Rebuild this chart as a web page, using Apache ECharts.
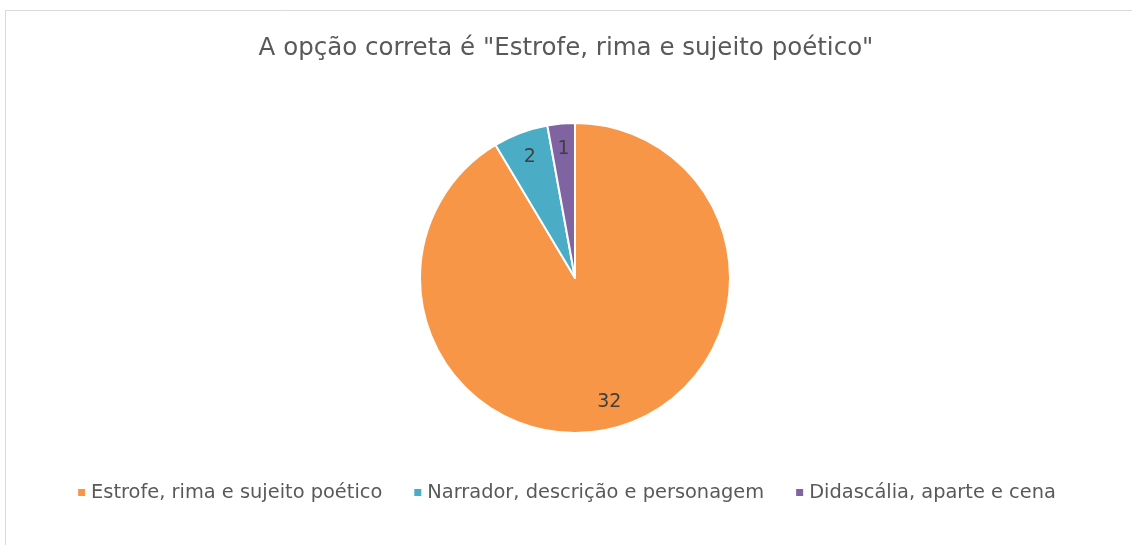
<!DOCTYPE html>
<html>
<head>
    <meta charset="utf-8" />
    <script type="text/javascript" src="https://cdn.jsdelivr.net/npm/echarts@6/dist/echarts.min.js"></script>
    <style>
      body { margin: 0; background: #ffffff; }
      #chart { width: 1132px; height: 545px; }
    </style>
</head>
<body>
<div id="chart"></div>
<script>
// dados do gráfico
var titulo = 'A opção correta é "Estrofe, rima e sujeito poético"';
var categorias = ['Estrofe, rima e sujeito poético', 'Narrador, descrição e personagem', 'Didascália, aparte e cena'];
var valores = [32, 2, 1];
var cores = ['#F79646', '#4BACC6', '#8064A2'];

var fonte = 'DejaVu Sans';
var dados = categorias.map(function (c, i) {
  return { name: c, value: valores[i], itemStyle: { color: cores[i] } };
});
// mesma série, invisível, só para posicionar os rótulos
var dadosRotulos = categorias.map(function (c, i) {
  return { name: c, value: valores[i], itemStyle: { color: 'rgba(0,0,0,0)' } };
});

var myChart = echarts.init(document.getElementById('chart'));
var option = {
  animation: false,
  title: {
    text: titulo,
    left: 'center',
    top: 31,
    textStyle: { fontFamily: fonte, fontSize: 24.5, fontWeight: 'normal', color: '#595959' }
  },
  legend: {
    data: categorias,
    bottom: 38,
    left: 'center',
    icon: 'rect',
    itemWidth: 9,
    itemHeight: 9,
    itemGap: 30,
    textStyle: { fontFamily: fonte, fontSize: 19.4, color: '#595959' }
  },
  graphic: [{
    type: 'rect',
    shape: { x: 5.5, y: 10.5, width: 1140, height: 560 },
    style: { fill: 'none', stroke: '#d9d9d9', lineWidth: 1 },
    silent: true
  }],
  series: [
    {
      // fatias
      type: 'pie',
      center: [575, 278],
      radius: [0, 155],
      startAngle: 90,
      clockwise: true,
      label: { show: false },
      labelLine: { show: false },
      itemStyle: { borderColor: '#ffffff', borderWidth: 2 },
      data: dados
    },
    {
      // rótulos dos valores
      type: 'pie',
      center: [575, 278],
      radius: [0, 252],
      startAngle: 90,
      clockwise: true,
      silent: true,
      legendHoverLink: false,
      label: {
        show: true,
        position: 'inside',
        formatter: '{c}',
        fontFamily: fonte,
        fontSize: 19,
        color: '#404040'
      },
      labelLine: { show: false },
      data: dadosRotulos
    }
  ]
};
myChart.setOption(option);
</script>
</body>
</html>
